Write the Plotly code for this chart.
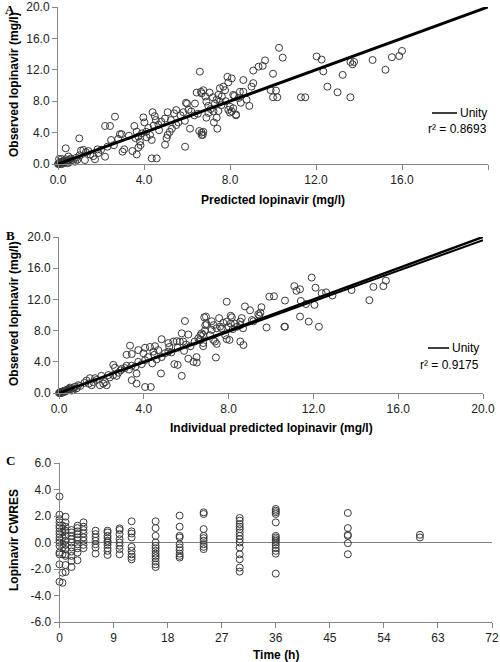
import plotly.graph_objects as go

# ---------------- data ----------------
# Panel A: population predicted vs observed lopinavir (mg/l)
a_pred = [0.0,0.03,0.05,0.06,0.08,0.1,0.12,0.14,0.16,0.18,0.2,0.22,0.25,0.28,0.3,0.33,0.36,0.4,0.45,0.48,0.5,0.55,0.6,0.64,0.7,0.79,0.85,0.9,0.05,0.17,0.36,0.99,
          1.07,1.18,1.41,1.64,1.72,1.88,1.84,2.19,1.25,1.5,2.0,2.3,2.19,2.42,2.47,2.65,2.88,2.96,3.08,3.0,3.46,3.66,2.6,1.0,1.3,2.8,
          3.55,3.66,3.74,3.81,3.84,3.74,3.97,4.02,4.12,4.28,4.36,4.40,4.5,4.67,4.36,4.59,4.8,4.98,4.98,5.05,5.1,5.2,5.3,5.5,5.1,5.4,5.5,5.7,5.83,5.91,5.95,6.0,6.07,6.14,6.34,6.37,6.45,6.65,6.57,6.68,6.73,6.6,3.9,4.2,4.55,4.1,4.7,5.25,5.6,5.9,6.2,6.5,4.45,3.3,3.6,
          6.76,6.68,6.9,6.99,6.9,7.38,7.25,7.41,7.23,7.46,7.38,7.53,7.46,7.62,7.53,7.69,7.77,7.88,8.08,7.92,8.15,8.2,8.46,8.62,8.0,8.15,8.08,8.28,8.28,7.92,8.0,8.9,8.77,8.62,9.08,9.0,9.08,9.33,9.52,9.63,10.0,6.76,6.68,7.1,7.2,7.0,7.6,7.8,8.4,8.5,7.3,6.85,7.05,
          10.28,10.45,12.03,12.26,12.34,13.6,13.7,13.77,13.24,14.63,15.23,15.53,15.87,16.0,12.53,13.0,13.6,11.3,11.5,10.0,10.2,9.89,10.14]
a_obs = [0.0,0.05,0.1,0.0,0.15,0.05,0.2,0.1,0.3,0.0,0.15,0.35,0.1,0.25,0.45,0.2,0.6,0.3,0.1,0.96,0.5,0.25,0.7,0.5,0.35,0.3,0.8,0.55,0.64,0.64,2.0,3.27,
         1.7,1.8,1.65,1.0,0.6,1.4,1.87,0.93,0.5,1.2,1.8,2.2,4.84,4.84,3.06,6.03,3.8,3.8,1.87,1.57,1.65,1.22,2.4,1.1,1.5,3.2,
         4.84,4.12,3.5,2.85,2.4,2.1,5.94,5.3,3.4,3.7,3.06,6.6,6.1,5.0,0.72,0.72,5.4,5.8,2.46,3.3,3.7,4.1,4.5,4.96,6.6,6.45,6.87,6.2,6.6,2.2,7.8,7.7,6.9,4.5,6.2,7.7,9.1,9.2,4.2,4.0,3.7,11.76,3.9,4.6,5.6,4.1,4.3,5.6,5.3,5.5,6.7,6.4,4.9,3.6,3.3,
         9.4,9.0,7.95,7.4,5.9,5.9,5.3,4.5,6.7,6.75,8.2,7.95,8.8,8.6,9.65,9.85,9.4,11.1,10.9,10.4,8.8,8.67,9.2,9.2,7.3,7.1,6.7,6.2,6.3,6.9,6.55,7.4,8.2,10.7,10.3,9.85,11.9,12.4,12.5,13.2,11.5,4.1,3.7,7.0,8.5,6.5,7.5,8.0,8.4,7.8,7.7,8.6,9.1,
         14.8,13.55,13.7,13.3,11.8,13.0,12.7,13.0,11.35,13.25,12.0,13.6,13.75,14.4,9.85,9.14,8.5,8.5,8.5,8.5,8.5,9.4,9.35]

# Panel B: individual predicted vs observed lopinavir (mg/l)
b_pred = [0.0,0.03,0.05,0.07,0.09,0.1,0.12,0.14,0.16,0.18,0.2,0.22,0.25,0.28,0.3,0.33,0.36,0.4,0.45,0.5,0.52,0.6,0.65,0.68,0.75,0.83,0.91,0.2,0.06,0.55,
          1.3,1.4,1.46,1.54,1.62,1.78,1.93,2.0,2.09,2.17,2.25,2.33,2.56,2.56,2.64,2.8,2.72,2.96,3.11,3.19,1.2,1.7,2.4,2.9,1.0,
          3.35,3.19,3.43,3.74,3.98,4.06,4.29,4.53,4.45,4.68,4.2,4.5,4.84,5.0,5.16,3.74,4.06,3.43,3.6,3.66,3.43,3.66,4.06,4.33,4.81,5.44,5.6,5.79,6.1,6.34,6.49,6.5,6.4,6.57,6.73,6.8,5.94,6.85,5.79,6.1,4.84,5.16,5.4,5.55,5.7,5.86,3.9,4.6,5.3,5.6,6.0,6.2,5.9,4.4,3.3,5.2,
          11.92,12.1,11.1,11.2,11.37,12.39,12.6,12.9,13.8,14.83,15.3,15.42,14.64,12.05,11.65,11.41,11.37,11.78,12.26,10.63,10.66,9.79,9.92,10.14,10.66,9.55,9.01,8.77,9.5,9.4,9.45,7.91,8.15,8.1,8.62,8.55,9.1,9.17,7.55,6.93,6.96,6.9,7.2,7.3,7.75,7.91,7.67,8.0,8.1,8.2,8.3,8.41,8.55,8.68,7.2,7.44,7.6,7.13,7.28,7.36,7.84,7.91,8.04,7.44,8.55,8.7,6.8,6.8,7.4,6.67,6.88,6.65]
b_obs = [0.0,0.02,0.08,0.03,0.12,0.0,0.1,0.15,0.05,0.2,0.12,0.25,0.18,0.3,0.2,0.35,0.3,0.45,0.4,0.55,0.7,0.3,0.6,0.4,0.8,0.6,1.0,0.2,0.06,0.5,
         1.6,1.2,1.9,1.0,1.4,1.67,1.0,2.2,1.2,1.4,1.0,2.3,2.3,3.6,3.25,2.6,2.2,3.1,3.2,3.5,1.3,1.9,2.0,2.9,0.9,
         6.07,4.9,5.0,5.5,5.1,5.8,5.9,6.0,5.3,5.5,4.6,4.9,4.6,5.1,5.3,4.0,4.2,3.5,3.37,2.5,1.65,1.2,0.77,0.77,2.5,3.7,3.6,2.2,4.4,4.0,4.6,3.9,6.6,7.0,7.65,7.45,9.23,9.7,7.65,7.5,6.9,6.4,6.6,6.65,6.6,6.6,3.7,4.3,5.2,5.8,6.2,6.0,5.4,3.8,3.0,5.9,
         14.8,13.5,13.7,13.1,13.3,12.8,12.9,12.5,13.2,13.6,13.7,14.4,11.9,11.3,11.4,11.8,9.8,9.15,8.5,8.5,8.5,8.4,12.35,12.4,11.85,11.0,10.6,11.1,10.3,10.1,9.9,11.7,9.7,9.9,9.6,9.15,9.35,9.2,9.6,9.8,8.85,8.7,9.2,8.7,9.0,9.15,8.3,8.5,8.9,8.2,8.9,8.5,8.7,8.3,8.1,8.3,8.5,7.4,6.8,6.6,7.4,6.9,6.8,6.3,6.6,6.15,6.0,6.4,4.55,7.4,8.0,6.8]

# Panel C: CWRES vs time (h)
c_groups = {
    0:   [3.47,2.1,1.77,1.52,1.27,1.09,0.84,0.63,0.38,0.18,0.0,-0.25,-0.76,-0.89,-1.65,-2.96],
    0.5: [1.27,1.01,0.76,0.38,-0.13,-0.38,-0.89,-2.28,-3.04],
    1:   [1.95,1.52,1.19,0.89,0.5,0.13,-0.18,-0.5,-0.89,-1.01,-1.7,-2.23],
    2:   [0.94,0.76,0.5,0.25,0.0,-0.38,-0.68,-1.01,-1.39,-1.85],
    3:   [1.27,1.09,0.84,0.63,0.38,0.18,-0.13,-0.43,-0.76,-1.34],
    4:   [1.52,1.19,0.94,0.68,0.38,0.13,-0.18,-0.43],
    6:   [0.89,0.63,0.38,0.13,-0.13,-0.38,-0.84],
    8:   [0.89,0.76,0.5,0.33,0.13,0.0,-0.18,-0.43,-0.63,-0.94],
    10:  [1.06,0.94,0.63,0.25,0.0,-0.25,-0.5,-0.89],
    12:  [1.6,0.84,0.68,0.38,-0.33,-0.63,-0.89,-1.09,-1.27],
    16:  [1.6,1.09,0.5,0.0,-0.25,-0.43,-0.63,-0.84,-1.01,-1.19,-1.44,-1.65,-1.85],
    20:  [2.03,1.19,0.5,0.38,-0.13,-0.38,-0.58,-0.84,-1.01,-1.14],
    24:  [2.28,2.15,1.01,0.5,0.33,0.13,-0.13,-0.33,-0.5],
    30:  [1.85,1.65,1.39,1.19,1.01,0.76,0.5,0.25,0.0,-0.38,-0.89,-1.27,-1.9,-2.2],
    36:  [2.53,2.4,2.28,2.15,1.52,0.5,0.38,0.25,0.13,0.0,-0.18,-0.43,-0.63,-0.84,-2.35],
    48:  [2.23,1.09,0.58,0.5,-0.05,-0.89],
    60:  [0.58,0.38],
}
c_time = [t for t, vals in c_groups.items() for _ in vals]
c_cwres = [v for vals in c_groups.values() for v in vals]

unity_x = [0, 20]
unity_y = [0, 20]
fit_b_y = [0, 19.6]

conc_ticks = [0, 4, 8, 12, 16, 20]
conc_ticktext = ["0.0", "4.0", "8.0", "12.0", "16.0", "20.0"]
time_ticks = [0, 9, 18, 27, 36, 45, 54, 63, 72]
cwres_ticks = [-6, -4, -2, 0, 2, 4, 6]
cwres_ticktext = ["-6.0", "-4.0", "-2.0", "0.0", "2.0", "4.0", "6.0"]

r2_a = "r² = 0.8693"
r2_b = "r² = 0.9175"

# ---------------- figure ----------------
W, H = 500, 662
def px(x): return x / W
def py(y): return 1 - y / H

FONT = "Liberation Sans, Arial, sans-serif"
SERIF = "Liberation Serif, Times New Roman, serif"
AX_COLOR = "#868686"
marker = dict(symbol="circle-open", size=7, color="#3a3a3a", line=dict(width=1))

fig = go.Figure()
fig.add_trace(go.Scatter(x=a_pred, y=a_obs, mode="markers", marker=marker,
                         xaxis="x", yaxis="y", cliponaxis=False, showlegend=False))
fig.add_trace(go.Scatter(x=unity_x, y=unity_y, mode="lines", line=dict(color="black", width=3),
                         xaxis="x", yaxis="y", showlegend=False))
fig.add_trace(go.Scatter(x=b_pred, y=b_obs, mode="markers", marker=marker,
                         xaxis="x2", yaxis="y2", cliponaxis=False, showlegend=False))
fig.add_trace(go.Scatter(x=unity_x, y=fit_b_y, mode="lines", line=dict(color="black", width=2),
                         xaxis="x2", yaxis="y2", showlegend=False))
fig.add_trace(go.Scatter(x=unity_x, y=unity_y, mode="lines", line=dict(color="black", width=2.5),
                         xaxis="x2", yaxis="y2", showlegend=False))
fig.add_trace(go.Scatter(x=c_time, y=c_cwres, mode="markers", marker=marker,
                         xaxis="x3", yaxis="y3", cliponaxis=False, showlegend=False))

common = dict(showline=True, linecolor=AX_COLOR, linewidth=1, ticks="outside", ticklen=5,
              tickcolor=AX_COLOR, showgrid=False, zeroline=False, automargin=False,
              tickfont=dict(family=FONT, size=12, color="#222"))

fig.update_layout(
    template="none",
    width=W, height=H, autosize=False,
    margin=dict(l=0, r=0, t=0, b=0, pad=0, autoexpand=False),
    paper_bgcolor="white", plot_bgcolor="white", showlegend=False,
    xaxis=dict(common, domain=[px(58), px(488)], range=[0, 20], tickvals=conc_ticks,
               ticktext=conc_ticktext, anchor="y"),
    yaxis=dict(common, domain=[py(164), py(7)], range=[0, 20], tickvals=conc_ticks,
               ticktext=conc_ticktext, anchor="x"),
    xaxis2=dict(common, domain=[px(59), px(483)], range=[0, 20], tickvals=conc_ticks,
                ticktext=conc_ticktext, anchor="y2"),
    yaxis2=dict(common, domain=[py(393), py(237)], range=[0, 20], tickvals=conc_ticks,
                ticktext=conc_ticktext, anchor="x2"),
    xaxis3=dict(common, domain=[px(59.5), px(492)], range=[0, 72], tickvals=time_ticks, anchor="y3"),
    yaxis3=dict(common, domain=[py(622), py(463)], range=[-6, 6], tickvals=cwres_ticks,
                ticktext=cwres_ticktext, anchor="x3",
                zeroline=True, zerolinecolor="#808080", zerolinewidth=1),
)

ann = []
def text(x, y, s, size=12, bold=False, angle=0, xanchor="center", family=FONT):
    ann.append(dict(x=px(x), y=py(y), xref="paper", yref="paper", text=(f"<b>{s}</b>" if bold else s),
                    showarrow=False, textangle=angle, xanchor=xanchor, yanchor="middle",
                    font=dict(family=family, size=size, color="black")))

text(3, 9, "A", 13, True, xanchor="left", family=SERIF)
text(4, 236, "B", 13, True, xanchor="left", family=SERIF)
text(4, 460, "C", 13, True, xanchor="left", family=SERIF)

text(14, 85, "Observed lopinavir (mg/l)", 12, True, -90)
text(14, 314, "Observed lopinavir (mg/l)", 12, True, -90)
text(14, 540, "Lopinavir CWRES", 12, True, -90)

text(273, 200, "Predicted lopinavir (mg/l)", 12, True)
text(271, 428, "Individual predicted lopinavir (mg/l)", 12, True)
text(276, 655, "Time (h)", 12, True)

text(458, 113, "Unity", 12, False, xanchor="left")
text(489, 129, r2_a, 12, False, xanchor="right")
text(450, 348, "Unity", 12, False, xanchor="left")
text(481, 365, r2_b, 12, False, xanchor="right")
fig.update_layout(annotations=ann)

shapes = [
    dict(type="line", xref="paper", yref="paper", x0=px(432), x1=px(457), y0=py(113), y1=py(113),
         line=dict(color="black", width=1.5)),
    dict(type="line", xref="paper", yref="paper", x0=px(428), x1=px(449), y0=py(348), y1=py(348),
         line=dict(color="black", width=1.5)),
]
fig.update_layout(shapes=shapes)

fig.write_html("out.html", config={"displayModeBar": False},
               post_script="document.body.style.margin='0';document.body.style.overflow='hidden';")
